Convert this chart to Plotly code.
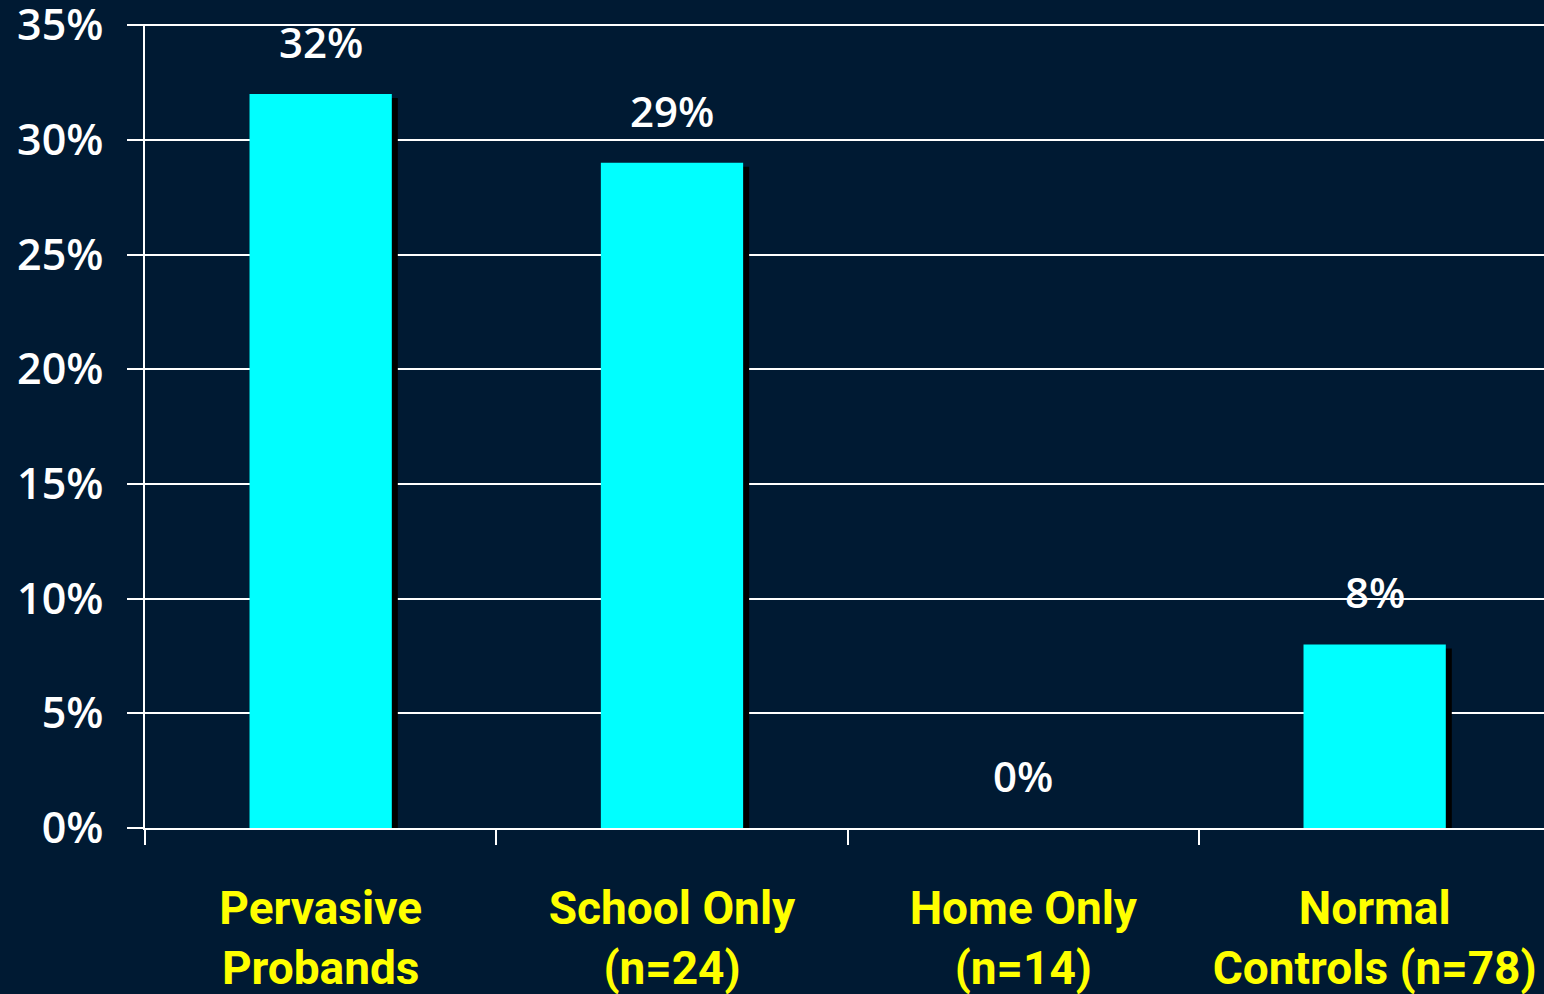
import plotly.graph_objects as go

categories = ["Pervasive<br>Probands", "School Only<br>(n=24)", "Home Only<br>(n=14)", "Normal<br>Controls (n=78)"]
values = [32, 29, 0, 8]
value_labels = ["32%", "29%", "0%", "8%"]
y_ticks = [0, 5, 10, 15, 20, 25, 30, 35]

BG = "#001a33"
CAT_FONT = "Roboto"
NUM_FONT = "Open Sans"

px_per_unit = 803 / 35.0
shadow_dy = 4 / px_per_unit
bar_w = 0.405
shadow_dx = 6 / 351.0

fig = go.Figure()
fig.add_trace(go.Bar(
    x=categories, y=[max(v - shadow_dy, 0) if v > 0 else 0 for v in values],
    width=bar_w, offset=-bar_w / 2 + shadow_dx,
    marker=dict(color="#000000", line=dict(width=0)), hoverinfo="skip", showlegend=False,
))
fig.add_trace(go.Bar(
    x=categories, y=values, width=bar_w, offset=-bar_w / 2,
    marker=dict(color="#00ffff", line=dict(width=0)), showlegend=False,
))

for c, v, t in zip(categories, values, value_labels):
    fig.add_annotation(x=c, y=v, text=t, showarrow=False, yanchor="bottom", xanchor="center",
                       yshift=22, font=dict(family=NUM_FONT, size=42, color="white", weight=600))

fig.update_layout(
    width=1544, height=994,
    margin=dict(l=145, r=0, t=24, b=166),
    paper_bgcolor=BG, plot_bgcolor=BG,
    barmode="overlay",
    showlegend=False,
)
fig.update_xaxes(
    type="category", range=[-0.5, 3.482], automargin=False,
    showgrid=False, showline=True, linecolor="white", linewidth=2,
    ticks="outside", tickson="boundaries", ticklen=15, tickwidth=2, tickcolor="white",
    tickfont=dict(family=CAT_FONT, size=46, color="#ffff00", weight="bold"),
    ticklabelstandoff=39, ticklabeloverflow="allow",
)
fig.update_yaxes(
    range=[0, 35.05], tickvals=y_ticks, ticktext=[f"{v}%" for v in y_ticks], automargin=False,
    showgrid=True, gridcolor="white", gridwidth=2,
    showline=True, linecolor="white", linewidth=2, zeroline=False,
    ticks="outside", ticklen=16, tickwidth=2, tickcolor="white",
    tickfont=dict(family=NUM_FONT, size=43, color="white", weight=600),
    ticklabelstandoff=15, ticklabeloverflow="allow",
)

fig.write_html("out.html")
